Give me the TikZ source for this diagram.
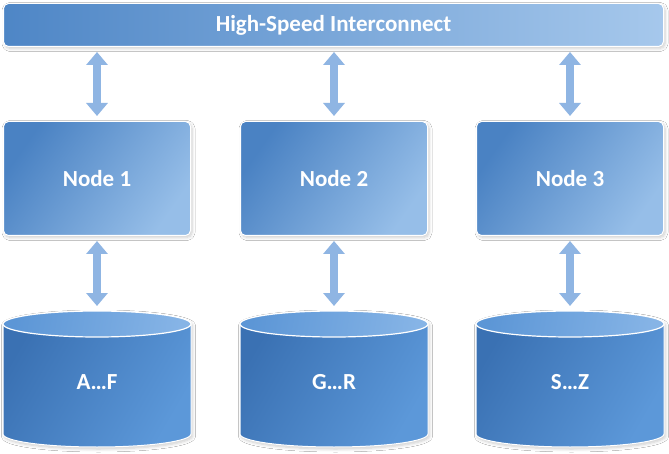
\documentclass[tikz,border=0pt]{standalone}
\usepackage{fontspec}
\setmainfont{Carlito}
\usetikzlibrary{arrows.meta,shadows.blur}
\definecolor{bardark}{HTML}{4E86C6}
\definecolor{barmid}{HTML}{5E98D8}
\definecolor{barlight}{HTML}{A6C8EC}
\definecolor{boxdark}{HTML}{4A82C3}
\definecolor{boxmid}{HTML}{5A93D3}
\definecolor{boxlight}{HTML}{96BEE8}
\definecolor{cyldark}{HTML}{3A71B3}
\definecolor{cylmid}{HTML}{4482C6}
\definecolor{cyllight}{HTML}{5C98D9}
\definecolor{topdark}{HTML}{5C96D6}
\definecolor{toplight}{HTML}{86B4E6}
\definecolor{arrowc}{HTML}{8FB5E3}
\tikzset{
  shad/.style={blur shadow={shadow xshift=1.5pt,shadow yshift=-2pt,shadow blur steps=6,shadow opacity=20,shadow blur radius=3pt}},
  lbl/.style={text=white,font=\fontsize{23}{26}\selectfont\bfseries},
  barbox/.style={lbl,rounded corners=5pt,draw=white,line width=1pt,left color=bardark,middle color=barmid,right color=barlight,shad,minimum width=660pt,minimum height=43pt},
  nodebox/.style={lbl,rounded corners=5pt,draw=white,line width=1pt,left color=boxdark,middle color=boxmid,right color=boxlight,shading angle=55,shad,minimum width=187pt,minimum height=114pt},
  cylbody/.style={draw=white,line width=1pt,left color=cyldark,middle color=cylmid,right color=cyllight,shading angle=60,shad},
  cyltop/.style={draw=white,line width=1.2pt,left color=topdark,right color=toplight,shading angle=80},
  biarrow/.style={draw=arrowc,line width=8pt,{Triangle[width=21pt,length=13pt]}-{Triangle[width=21pt,length=13pt]},shorten <=5pt,shorten >=5pt}
}
\begin{document}
\begin{tikzpicture}[x=1pt,y=1pt]
\useasboundingbox (0,0) rectangle (669,-454);
\fill[white] (0,0) rectangle (669,-454);
\node[barbox] (bar) at (333.5,-25) {High-Speed Interconnect};
\foreach \cx/\n/\c/\t/\l in {97/n1/c1/Node 1/A\ldots F, 334/n2/c2/Node 2/G\ldots R, 570/n3/c3/Node 3/S\ldots Z}{
  \node[nodebox] (\n) at (\cx,-178.5) {\t};
  \path[cylbody] ({\cx-94},-324) -- ({\cx-94},-434) arc[start angle=180,end angle=360,x radius=94,y radius=13] -- ({\cx+94},-324) arc[start angle=0,end angle=180,x radius=94,y radius=13] -- cycle;
  \path[cyltop] (\cx,-324) ellipse[x radius=94,y radius=13];
  \node[lbl] (\c) at (\cx,-382) {\l};
  \coordinate (\c t) at (\cx,-311);
  \draw[biarrow] (bar.south -| \n.north) -- (\n.north);
  \draw[biarrow] (\n.south) -- (\c t);
}
\end{tikzpicture}
\end{document}
